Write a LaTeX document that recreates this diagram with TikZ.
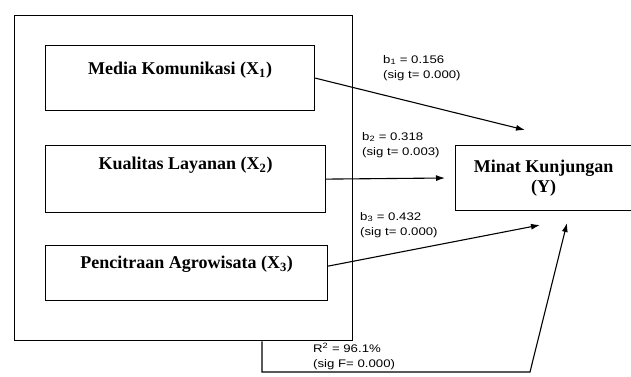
\documentclass[tikz,border=0pt]{standalone}
\usepackage{fontspec}
\setmainfont{Liberation Serif}
\newfontfamily\coeffont[FakeStretch=1.2]{Liberation Sans}
\usetikzlibrary{arrows.meta,positioning,calc}

\begin{document}
\begin{tikzpicture}[
  x=1pt, y=-1pt,
  frame/.style={draw, line width=1.3pt, anchor=north west},
  varbox/.style={draw, line width=1.2pt, anchor=north west, font=\fontsize{18}{20}\selectfont\bfseries, text height=12pt, inner xsep=0pt},
  coef/.style={anchor=west, align=left, inner sep=0pt, font=\coeffont\fontsize{11}{15}\selectfont},
  arrow/.style={-{Latex[length=9pt,width=6pt]}, line width=1.1pt}
]
  \useasboundingbox (0,0) rectangle (631,376);

  \node[frame, minimum width=338pt, minimum height=325pt] (outer) at (14,15) {};
  \node[varbox, minimum width=269pt, inner ysep=17pt, text depth=19pt] (media) at (45,45) {Media Komunikasi (X\textsubscript{1})};
  \node[varbox, minimum width=280pt, inner ysep=12pt, text depth=31pt] (layanan) at (45,145) {Kualitas Layanan (X\textsubscript{2})};
  \node[varbox, minimum width=282pt, inner ysep=11pt, text depth=21pt] (citra) at (45,245) {Pencitraan Agrowisata (X\textsubscript{3})};
  \node[draw, line width=1.2pt, anchor=north west, minimum width=176pt, minimum height=65pt, align=center, font=\fontsize{18}{20}\selectfont\bfseries] (minat) at (455,145) {Minat Kunjungan\\(Y)};

  \coordinate (in1) at (525,130);
  \coordinate (in2) at (445,178);
  \coordinate (in3) at (540,225);
  \coordinate (inR) at (567,223);
  \coordinate (foot) at (262,372);
  \coordinate (turn) at (530,372);

  \draw[arrow] (media.east) -- (in1);
  \draw[arrow] (layanan.east) -- (in2);
  \draw[arrow] ([yshift=7pt]citra.east) -- (in3);
  \draw[arrow] (outer.south -| foot) -- (foot) -- (turn) -- (inR);

  \node[coef] (b1) at (383,68) {b\textsubscript{1} = 0.156\\(sig t= 0.000)};
  \node[coef] (b2) at (362,145) {b\textsubscript{2} = 0.318\\(sig t= 0.003)};
  \node[coef] (b3) at (360,225) {b\textsubscript{3} = 0.432\\(sig t= 0.000)};
  \node[coef] (rsq) at (313,356) {R\textsuperscript{2} = 96.1\%\\(sig F= 0.000)};
\end{tikzpicture}
\end{document}
